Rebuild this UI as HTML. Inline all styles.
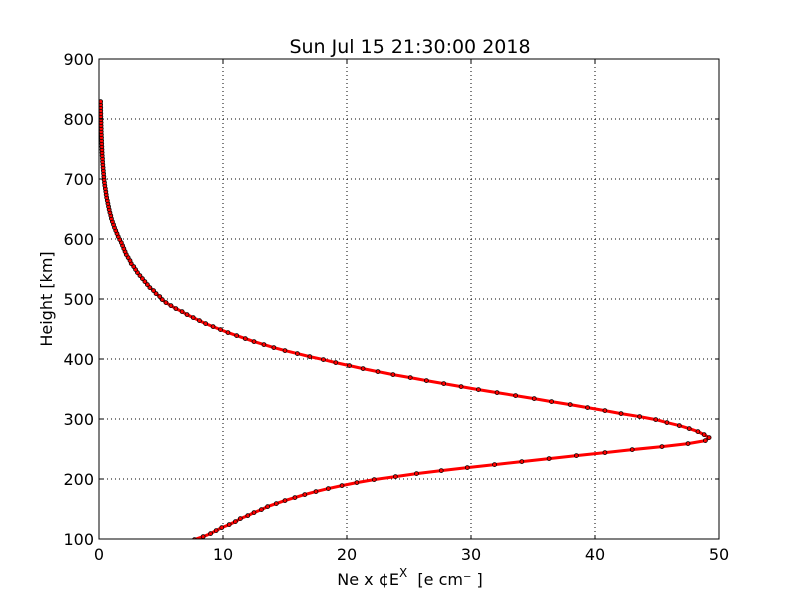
<!DOCTYPE html>
<html><head><meta charset="utf-8"><style>
body{margin:0;background:#fff;}
svg{display:block;font-family:"DejaVu Sans","Liberation Sans",sans-serif;}
</style></head><body>
<svg id="chart" width="800" height="600" viewBox="0 0 800 600">
<defs><clipPath id="plotclip"><rect x="99" y="59" width="620" height="480"/></clipPath></defs>
<rect width="800" height="600" fill="#fff"/>
<g id="grid"></g>
<g id="series" clip-path="url(#plotclip)"></g>
<g id="ticks"></g>
<rect x="99" y="59" width="620" height="480" fill="none" stroke="#000" stroke-width="1"/>
<text x="410" y="53" font-size="19" text-anchor="middle">Sun Jul 15 21:30:00 2018</text>
<text x="410" y="585" font-size="16" text-anchor="middle" xml:space="preserve">Ne x ¢E<tspan dy="-8" font-size="12">X</tspan><tspan dy="8">  [e cm⁻ ]</tspan></text>
<text transform="translate(52,299) rotate(-90)" font-size="16" text-anchor="middle">Height [km]</text>
</svg>
<script>
const heights=[99,104,109,114,119,124,129,134,139,144,149,154,159,164,169,174,179,184,189,194,199,204,209,214,219,224,229,234,239,244,249,254,259,264,269,274,279,284,289,294,299,304,309,314,319,324,329,334,339,344,349,354,359,364,369,374,379,384,389,394,399,404,409,414,419,424,429,434,439,444,449,454,459,464,469,474,479,484,489,494,499,504,509,514,519,524,529,534,539,544,549,554,559,564,569,574,579,584,589,594,599,604,609,614,619,624,629,634,639,644,649,654,659,664,669,674,679,684,689,694,699,704,709,714,719,724,729,734,739,744,749,754,759,764,769,774,779,784,789,794,799,804,809,814,819,824,829];
const neValues=[7.7,8.4,9.0,9.45,9.9,10.5,11.0,11.4,12.0,12.5,13.1,13.6,14.3,15.0,15.8,16.6,17.5,18.5,19.6,20.8,22.2,23.9,25.6,27.6,29.7,31.9,34.1,36.3,38.5,40.8,43.0,45.4,47.5,48.9,49.2,
48.8,48.3,47.6,46.8,45.8,44.9,43.6,42.1,40.8,39.4,38.0,36.5,35.1,33.6,32.1,30.6,29.2,27.8,26.4,25.1,23.7,22.5,21.3,20.2,19.1,18.1,17.0,16.0,15.0,14.1,13.3,12.5,11.8,11.1,10.4,9.8,9.2,8.6,8.1,7.6,7.1,6.7,6.2,5.8,5.4,5.1,
4.9,4.6,4.4,4.1,3.9,3.7,3.5,3.3,3.1,2.95,2.8,2.6,2.5,2.35,2.2,2.1,2.0,1.9,1.8,1.67,1.55,1.45,1.35,1.25,1.17,1.08,1.0,0.95,0.88,0.82,0.77,0.72,0.67,0.62,0.58,0.55,0.51,0.47,0.44,0.41,0.39,0.37,0.35,0.33,0.31,0.29,0.28,0.26,0.25,0.24,0.23,0.22,0.21,0.2,0.19,0.18,0.18,0.17,0.17,0.16,0.15,0.15,0.14,0.14,0.13,0.13];
const xTicks=[0,10,20,30,40,50];
const yTicks=[100,200,300,400,500,600,700,800,900];
const NS='http://www.w3.org/2000/svg';
const X0=99,X1=719,Y0=539,Y1=59;
function xs(v){return X0+(v-0)/(50-0)*(X1-X0);}
function ys(v){return Y0-(v-100)/(900-100)*(Y0-Y1);}
function mk(tag,attrs,parent){const e=document.createElementNS(NS,tag);for(const k in attrs)e.setAttribute(k,attrs[k]);parent.appendChild(e);return e;}
const grid=document.getElementById('grid'),ticks=document.getElementById('ticks'),series=document.getElementById('series');
xTicks.forEach(t=>{
 const x=xs(t);
 if(t>0&&t<50){const g=mk('line',{x1:x,x2:x,y1:Y1,y2:Y0,stroke:'#000','stroke-width':1,'stroke-dasharray':'1,3'},grid);
 
 }
 mk('line',{x1:x,x2:x,y1:Y0,y2:Y0-4,stroke:'#000'},ticks);
 mk('line',{x1:x,x2:x,y1:Y1,y2:Y1+4,stroke:'#000'},ticks);
 const l=mk('text',{x:x,y:Y0+21,'font-size':16,'text-anchor':'middle'},ticks);l.textContent=t;
 
 
});
yTicks.forEach(t=>{
 const y=ys(t);
 if(t>100&&t<900){const g=mk('line',{x1:X0,x2:X1,y1:y,y2:y,stroke:'#000','stroke-width':1,'stroke-dasharray':'1,3'},grid);
 
 }
 mk('line',{x1:X0,x2:X0+4,y1:y,y2:y,stroke:'#000'},ticks);
 mk('line',{x1:X1,x2:X1-4,y1:y,y2:y,stroke:'#000'},ticks);
 const l=mk('text',{x:X0-5,y:y+6,'font-size':16,'text-anchor':'end'},ticks);l.textContent=t;
 
 
});
const pts=heights.map((h,i)=>xs(neValues[i]).toFixed(1)+','+ys(h).toFixed(1)).join(' ');
const line=mk('polyline',{points:pts,fill:'none',stroke:'#f00','stroke-width':3,'stroke-linejoin':'round'},series);


heights.forEach((h,i)=>{
 const c=mk('circle',{cx:xs(neValues[i]),cy:ys(h),r:2,fill:'#f00',stroke:'#000','stroke-width':0.8},series);
 
 
});
</script>
</body></html>
